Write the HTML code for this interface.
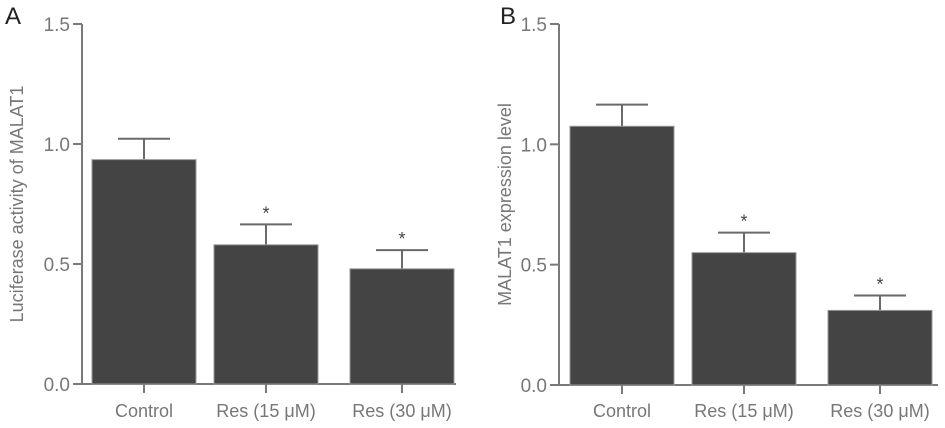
<!DOCTYPE html>
<html><head><meta charset="utf-8"><style>
body{margin:0;background:#fff}
svg{display:block;font-family:"Liberation Sans",Arial,sans-serif}
</style></head><body>
<svg id="c" width="945" height="428" viewBox="0 0 945 428"></svg>
<script>
const categories=["Control","Res (15 μM)","Res (30 μM)"];
const valuesA=[0.935,0.58,0.48];
const errorsA=[0.087,0.085,0.078];
const sigA=[false,true,true];
const valuesB=[1.075,0.55,0.31];
const errorsB=[0.09,0.083,0.062];
const sigB=[false,true,true];
const ticks=[0,0.5,1.0,1.5];
const tickLabels=["0.0","0.5","1.0","1.5"];
const NS="http://www.w3.org/2000/svg";
const svg=document.getElementById('c');
function mk(t,a,p){const e=document.createElementNS(NS,t);for(const k in a)e.setAttribute(k,a[k]);(p||svg).appendChild(e);return e;}
function panel(cfg,vals,errs,sig){
  const g=mk('g',{});
  
  
  const y=v=>cfg.y0-v*(cfg.y0-cfg.y15)/1.5;
  const ax=mk('line',{x1:cfg.ax,y1:y(1.5),x2:cfg.ax,y2:y(0),stroke:'#7a7a7a','stroke-width':2},g);
  
  const xa=mk('line',{x1:cfg.ax-8,y1:y(0),x2:cfg.xEnd,y2:y(0),stroke:'#7a7a7a','stroke-width':2},g);
  
  ticks.forEach((t,i)=>{
    mk('line',{x1:cfg.ax-9,y1:y(t),x2:cfg.ax,y2:y(t),stroke:'#7a7a7a','stroke-width':2},g);
    const tl=mk('text',{x:cfg.ax-12,y:y(t)+7,'text-anchor':'end','font-size':19,fill:'#777'},g);
    tl.textContent=tickLabels[i];
    
  });
  const yt=mk('text',{x:cfg.ylx,y:y(0.75),'text-anchor':'middle','font-size':18,fill:'#777',transform:`rotate(-90 ${cfg.ylx} ${y(0.75)})`},g);
  yt.textContent=cfg.ylabel;
  const pl=mk('text',{x:cfg.lx,y:24,'font-size':24,fill:'#222'},g);
  pl.textContent=cfg.letter;
  vals.forEach((v,i)=>{
    const x0=cfg.bx[i],w=cfg.bw,cx=x0+w/2;
    const top=y(v+errs[i]);
    const el=mk('line',{x1:cx,y1:top,x2:cx,y2:y(v),stroke:'#6a6a6a','stroke-width':2},g);
    
    mk('line',{x1:cx-26,y1:top,x2:cx+26,y2:top,stroke:'#6a6a6a','stroke-width':2},g);
    const r=mk('rect',{x:x0,y:y(v),width:w,height:y(0)-y(v),fill:'#444',stroke:'#999','stroke-width':1},g);
    
    mk('line',{x1:cx,y1:y(0),x2:cx,y2:y(0)+9,stroke:'#7a7a7a','stroke-width':2},g);
    const xl=mk('text',{x:cx,y:417,'text-anchor':'middle','font-size':18,fill:'#777'},g);
    xl.textContent=categories[i];
    if(sig[i]){const s=mk('text',{x:cx,y:top-5,'text-anchor':'middle','font-size':18,fill:'#444'},g);
      s.textContent='*';}
  });
}
panel({name:'panel-a',letter:'A',lx:5,ax:82,xEnd:456,y0:384,y15:24,ylx:23,ylabel:'Luciferase activity of MALAT1',bx:[92,214,350],bw:104},valuesA,errorsA,sigA);
panel({name:'panel-b',letter:'B',lx:500,ax:559,xEnd:938,y0:385,y15:24,ylx:511,ylabel:'MALAT1 expression level',bx:[570,692,828],bw:104},valuesB,errorsB,sigB);
</script>
</body></html>
